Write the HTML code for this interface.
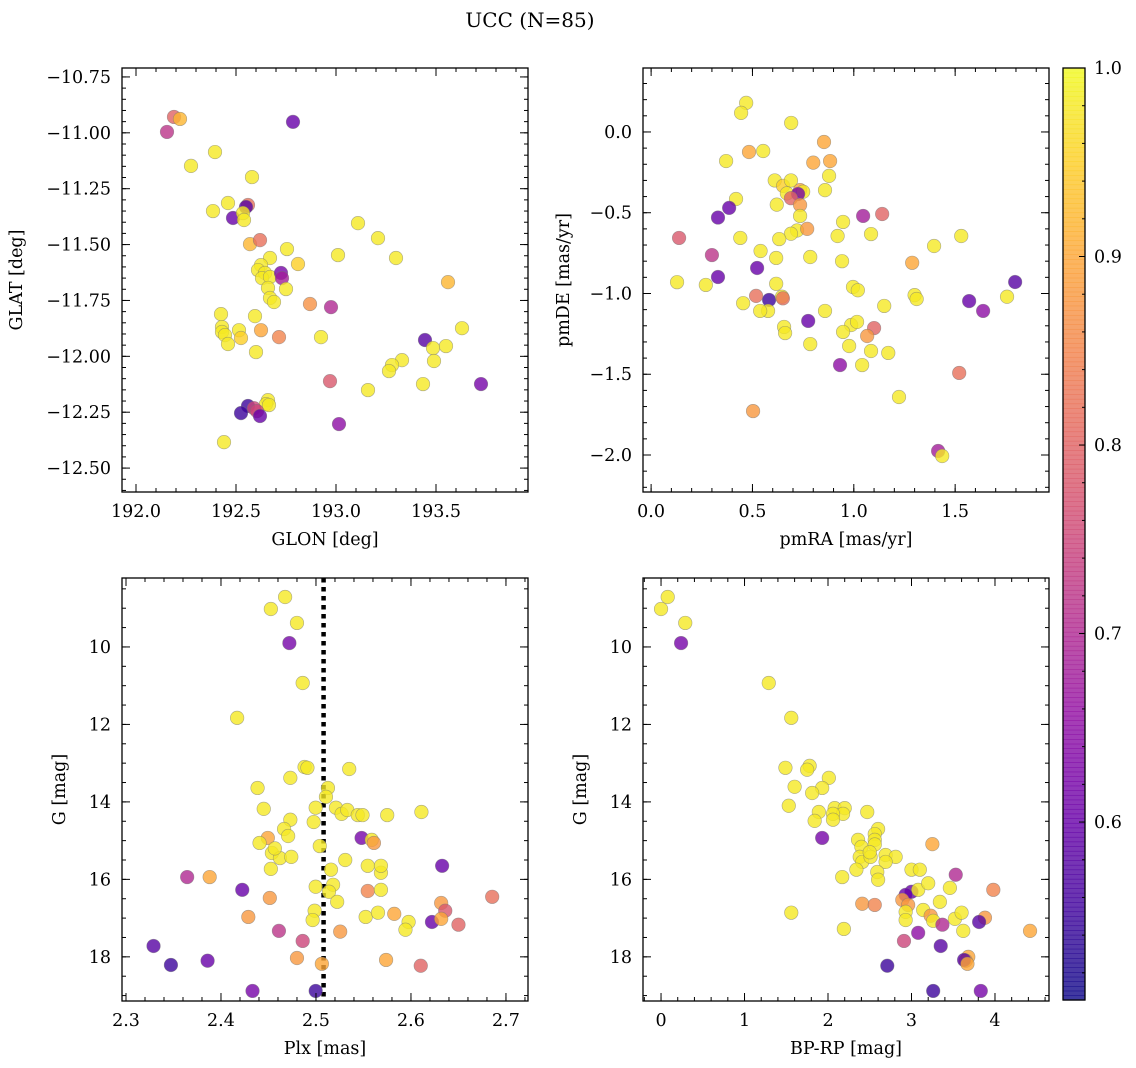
<!DOCTYPE html>
<html><head><meta charset="utf-8"><style>
body{margin:0;background:#fff;}
svg{display:block;font-family:"DejaVu Serif","Liberation Serif",serif;}
</style></head><body>
<svg id="fig" width="1136" height="1068" viewBox="0 0 1136 1068">
<text x="530" y="27" font-size="20" text-anchor="middle">UCC (N=85)</text>
</svg>
<script>
// ---- Panel 1: GLON / GLAT
const glon=[192.155,192.19,192.22,192.785,192.395,192.275,192.58,192.385,192.46,192.485,192.56,192.55,192.535,192.54,192.57,192.62,192.755,193.11,193.21,193.30,193.01,192.81,192.67,192.625,192.61,192.645,192.63,192.67,192.66,192.725,192.73,192.75,192.67,192.69,192.87,192.975,193.56,192.425,192.595,192.43,192.43,192.445,192.515,192.525,192.625,192.46,192.6,192.715,192.925,193.63,193.445,193.485,193.55,193.49,193.33,193.28,193.265,192.97,193.16,193.435,193.725,192.66,192.65,192.665,192.56,192.525,192.59,192.605,192.62,193.015,192.44];
const glat=[-10.996,-10.929,-10.938,-10.951,-11.086,-11.148,-11.198,-11.350,-11.314,-11.381,-11.323,-11.332,-11.359,-11.390,-11.498,-11.480,-11.520,-11.404,-11.471,-11.560,-11.547,-11.587,-11.560,-11.592,-11.614,-11.627,-11.650,-11.645,-11.694,-11.627,-11.650,-11.699,-11.739,-11.757,-11.766,-11.780,-11.668,-11.811,-11.820,-11.869,-11.891,-11.905,-11.883,-11.918,-11.883,-11.945,-11.981,-11.914,-11.914,-11.874,-11.927,-11.963,-11.954,-12.021,-12.017,-12.039,-12.066,-12.111,-12.151,-12.124,-12.124,-12.196,-12.214,-12.218,-12.222,-12.254,-12.232,-12.245,-12.267,-12.303,-12.384];
const prob1=[0.72,0.8,0.92,0.6,0.98,0.98,0.98,0.98,0.98,0.6,0.82,0.58,0.98,0.98,0.92,0.82,0.98,0.98,0.98,0.98,0.98,0.95,0.98,0.98,0.98,0.98,0.98,0.98,0.98,0.62,0.68,0.98,0.98,0.98,0.87,0.7,0.92,0.98,0.98,0.98,0.98,0.98,0.98,0.95,0.9,0.98,0.98,0.85,0.98,0.98,0.58,0.98,0.98,0.98,0.98,0.98,0.98,0.78,0.98,0.98,0.62,0.98,0.98,0.98,0.55,0.55,0.75,0.75,0.6,0.65,0.98];
// ---- Panel 2: pmRA / pmDE
const pmra=[0.469,0.444,0.483,0.553,0.691,0.853,0.883,0.80,0.37,0.61,0.651,0.69,0.735,0.75,0.67,0.878,0.858,0.725,0.69,0.419,0.385,0.33,0.735,0.735,0.62,0.72,0.77,0.69,0.947,1.046,1.14,1.085,0.92,0.632,0.44,0.138,0.54,1.396,1.53,0.785,0.942,1.288,0.30,0.523,0.617,0.33,0.128,0.27,0.617,0.996,1.02,1.30,1.31,1.796,1.756,1.569,1.638,0.454,0.582,0.646,0.518,0.577,0.538,0.858,1.15,0.775,0.987,1.016,0.656,0.661,0.947,1.10,1.066,0.977,0.785,1.085,1.17,0.932,1.041,1.52,1.223,0.503,1.416,1.436,0.65];
const pmde=[0.180,0.118,-0.124,-0.118,0.056,-0.062,-0.18,-0.19,-0.18,-0.30,-0.334,-0.30,-0.36,-0.37,-0.38,-0.272,-0.36,-0.384,-0.41,-0.415,-0.47,-0.53,-0.452,-0.52,-0.45,-0.61,-0.60,-0.63,-0.557,-0.52,-0.508,-0.632,-0.644,-0.663,-0.656,-0.656,-0.737,-0.706,-0.644,-0.774,-0.80,-0.81,-0.762,-0.842,-0.78,-0.898,-0.93,-0.947,-0.94,-0.96,-0.98,-1.01,-1.034,-0.929,-1.02,-1.047,-1.108,-1.06,-1.04,-1.02,-1.015,-1.108,-1.108,-1.108,-1.077,-1.17,-1.195,-1.176,-1.207,-1.245,-1.238,-1.214,-1.263,-1.325,-1.313,-1.356,-1.368,-1.443,-1.443,-1.492,-1.641,-1.728,-1.975,-2.006,-1.03];
const prob2=[0.98,0.98,0.9,0.98,0.98,0.9,0.9,0.9,0.98,0.98,0.95,0.98,0.9,0.98,0.98,0.98,0.98,0.62,0.8,0.98,0.6,0.6,0.88,0.98,0.98,0.98,0.88,0.98,0.98,0.68,0.8,0.98,0.98,0.98,0.98,0.78,0.98,0.98,0.98,0.98,0.98,0.9,0.72,0.6,0.98,0.6,0.98,0.98,0.98,0.98,0.98,0.98,0.98,0.58,0.98,0.6,0.65,0.98,0.55,0.98,0.82,0.98,0.98,0.98,0.98,0.6,0.98,0.98,0.98,0.98,0.98,0.8,0.88,0.98,0.98,0.98,0.98,0.65,0.98,0.82,0.98,0.88,0.68,0.98,0.82];
// ---- Panel 3: Plx / G
const plx=[2.4525,2.4675,2.480,2.472,2.486,2.417,2.488,2.491,2.535,2.4385,2.473,2.5126,2.5105,2.4997,2.445,2.521,2.527,2.533,2.544,2.549,2.575,2.611,2.473,2.4976,2.4664,2.4707,2.4493,2.548,2.5587,2.561,2.4406,2.4536,2.4621,2.474,2.504,2.5308,2.5545,2.5158,2.5684,2.4525,2.6328,2.518,2.4997,2.3881,2.3644,2.4224,2.5137,2.5545,2.5684,2.4514,2.5223,2.4986,2.6318,2.6361,2.6855,2.5523,2.5653,2.5824,2.4288,2.4965,2.5975,2.6221,2.5942,2.6318,2.65,2.461,2.5255,2.486,2.329,2.480,2.5738,2.3859,2.3473,2.5062,2.6103,2.4332,2.4997,2.4567,2.5684];
const gmag1=[9.02,8.71,9.38,9.90,10.93,11.83,13.10,13.12,13.15,13.64,13.38,13.64,13.87,14.15,14.18,14.15,14.31,14.21,14.34,14.34,14.34,14.26,14.46,14.52,14.70,14.88,14.93,14.93,14.98,15.06,15.06,15.32,15.45,15.42,15.14,15.50,15.65,15.75,15.83,15.73,15.65,16.14,16.19,15.94,15.94,16.27,16.32,16.30,16.27,16.48,16.58,16.81,16.61,16.81,16.45,16.97,16.86,16.89,16.97,17.05,17.10,17.10,17.30,17.02,17.17,17.33,17.35,17.59,17.72,18.03,18.08,18.10,18.21,18.18,18.23,18.88,18.88,15.20,15.65];
const prob3=[0.98,0.98,0.98,0.62,0.98,0.98,0.98,0.98,0.98,0.98,0.98,0.98,0.98,0.98,0.98,0.98,0.98,0.98,0.98,0.98,0.98,0.98,0.98,0.98,0.98,0.98,0.9,0.62,0.98,0.88,0.98,0.98,0.98,0.98,0.98,0.98,0.98,0.98,0.98,0.98,0.6,0.98,0.98,0.9,0.7,0.6,0.98,0.85,0.98,0.88,0.98,0.98,0.88,0.78,0.82,0.98,0.98,0.9,0.88,0.98,0.98,0.6,0.98,0.9,0.8,0.72,0.88,0.75,0.58,0.88,0.9,0.6,0.55,0.9,0.8,0.62,0.55,0.98,0.98];
// ---- Panel 4: BP-RP / G
const bprp=[0.0,0.08,0.29,0.24,1.29,1.56,1.49,1.78,1.75,1.60,2.01,1.93,1.81,1.53,1.89,2.08,2.20,2.18,2.47,2.06,2.06,1.84,2.60,2.56,1.93,2.36,2.56,2.40,3.25,2.56,2.38,2.41,2.51,2.69,2.81,2.69,2.17,2.34,2.59,2.60,3.0,3.10,3.53,3.0,3.08,2.93,3.46,3.98,2.41,2.56,2.89,2.96,2.93,3.34,3.14,3.23,3.52,3.60,3.88,2.93,3.26,3.37,3.81,3.08,2.91,2.19,3.62,4.42,3.35,3.68,3.65,3.63,3.67,2.71,3.26,3.83,1.56,2.5,3.2];
const gmag2=[9.02,8.71,9.38,9.90,10.93,11.83,13.12,13.07,13.17,13.61,13.38,13.64,13.77,14.10,14.26,14.16,14.16,14.31,14.26,14.31,14.46,14.49,14.70,14.83,14.93,14.98,14.98,15.16,15.09,15.10,15.42,15.55,15.42,15.37,15.42,15.55,15.94,15.75,15.81,16.01,15.75,15.75,15.88,16.32,16.27,16.40,16.22,16.27,16.63,16.66,16.53,16.66,16.84,16.58,16.79,16.94,17.02,16.86,16.99,17.05,17.07,17.17,17.10,17.38,17.59,17.28,17.33,17.33,17.72,18.00,18.10,18.08,18.18,18.23,18.88,18.88,16.86,15.3,16.1];
const prob4=[0.98,0.98,0.98,0.62,0.98,0.98,0.98,0.98,0.98,0.98,0.98,0.98,0.98,0.98,0.98,0.98,0.98,0.98,0.98,0.98,0.98,0.98,0.98,0.98,0.62,0.98,0.98,0.98,0.9,0.98,0.98,0.98,0.98,0.98,0.98,0.98,0.98,0.98,0.98,0.98,0.98,0.98,0.7,0.6,0.98,0.6,0.98,0.85,0.88,0.85,0.88,0.88,0.98,0.98,0.98,0.88,0.98,0.98,0.88,0.98,0.98,0.7,0.58,0.65,0.75,0.98,0.98,0.9,0.58,0.9,0.88,0.58,0.9,0.55,0.55,0.62,0.98,0.98,0.98];
const plxLine=2.508;
const cbTicks=[0.6,0.7,0.8,0.9,1.0];

const NS="http://www.w3.org/2000/svg";
const svg=document.getElementById('fig');
const PMIN=0.5056,PMAX=1.0;
const FS=17.5;
const stops=["#0d0887","#41049d","#6a00a8","#8f0da4","#b12a90","#cc4778","#e16462","#f2844b","#fca636","#fcce25","#f0f921"];
function hx(h){return [1,3,5].map(i=>parseInt(h.substr(i,2),16));}
function plasma(t){t=Math.max(0,Math.min(1,t));const f=t*10,i=Math.min(9,Math.floor(f)),u=f-i;const a=hx(stops[i]),b=hx(stops[i+1]);return 'rgb('+a.map((v,k)=>Math.round(v+(b[k]-v)*u)).join(',')+')';}
function pc(p){return plasma((p-PMIN)/(PMAX-PMIN));}
function mk(tag,attrs,parent){const e=document.createElementNS(NS,tag);for(const k in attrs)e.setAttribute(k,attrs[k]);(parent||svg).appendChild(e);return e;}
function fmt(v,d,neg){return ((v<0&&!neg)?'\u2212':'')+Math.abs(v).toFixed(d);}
function range(a,b,s){const r=[];for(let v=a;v<=b+1e-9;v+=s)r.push(+v.toFixed(6));return r;}

function panel(c){
  const g=mk('g',{});
  
  
  const sx=v=>c.x0+(v-c.xd[0])/(c.xd[1]-c.xd[0])*(c.x1-c.x0);
  const sy=v=>c.y1-(v-c.yd[0])/(c.yd[1]-c.yd[0])*(c.y1-c.y0);
  const inX=v=>v>=Math.min(...c.xd)-1e-9&&v<=Math.max(...c.xd)+1e-9;
  const inY=v=>v>=Math.min(...c.yd)-1e-9&&v<=Math.max(...c.yd)+1e-9;
  if(c.vline!==undefined){const l=mk('line',{x1:sx(c.vline),x2:sx(c.vline),y1:c.y0,y2:c.y1,stroke:'#000','stroke-width':4.5,'stroke-dasharray':'4.5,4.5'},g);
    
    }
  for(let i=0;i<c.xs.length;i++){
    const px=sx(c.xs[i]),py=sy(c.ys[i]);
    if(px<c.x0||px>c.x1||py<c.y0||py>c.y1)continue;
    const e=mk('circle',{cx:px,cy:py,r:6.8,fill:pc(c.ps[i]),'fill-opacity':0.8,stroke:'#777','stroke-opacity':0.6,'stroke-width':0.6},g);
    
    
  }
  const fr=mk('rect',{x:c.x0,y:c.y0,width:c.x1-c.x0,height:c.y1-c.y0,fill:'none',stroke:'#000','stroke-width':1.3},g);
  
  
  c.xmin.filter(inX).forEach(v=>{const x=sx(v);mk('line',{x1:x,x2:x,y1:c.y1,y2:c.y1-4,stroke:'#000'},g);mk('line',{x1:x,x2:x,y1:c.y0,y2:c.y0+4,stroke:'#000'},g);});
  c.xmaj.filter(inX).forEach(v=>{const x=sx(v);mk('line',{x1:x,x2:x,y1:c.y1,y2:c.y1-8,stroke:'#000'},g);mk('line',{x1:x,x2:x,y1:c.y0,y2:c.y0+8,stroke:'#000'},g);
    const t=mk('text',{x:x,y:c.y1+25,'font-size':FS,'text-anchor':'middle'},g);t.textContent=fmt(v,c.xdp,false);
    
    });
  c.ymin.filter(inY).forEach(v=>{const y=sy(v);mk('line',{x1:c.x0,x2:c.x0+4,y1:y,y2:y,stroke:'#000'},g);mk('line',{x1:c.x1,x2:c.x1-4,y1:y,y2:y,stroke:'#000'},g);});
  c.ymaj.filter(inY).forEach(v=>{const y=sy(v);mk('line',{x1:c.x0,x2:c.x0+8,y1:y,y2:y,stroke:'#000'},g);mk('line',{x1:c.x1,x2:c.x1-8,y1:y,y2:y,stroke:'#000'},g);
    const t=mk('text',{x:c.x0-11,y:y+6,'font-size':FS,'text-anchor':'end'},g);t.textContent=fmt(v,c.ydp,c.absY);
    
    });
  const xl=mk('text',{x:(c.x0+c.x1)/2,y:c.y1+53,'font-size':FS,'text-anchor':'middle'},g);xl.textContent=c.xlab;
  
  
  const yx=c.x0-c.yoff;
  const yl=mk('text',{x:yx,y:(c.y0+c.y1)/2,'font-size':FS,'text-anchor':'middle',transform:`rotate(-90 ${yx} ${(c.y0+c.y1)/2})`},g);yl.textContent=c.ylab;
  
  
}
panel({name:'glon-glat-panel',x0:122,x1:528,y0:68,y1:492,xd:[191.93,193.96],yd:[-12.607,-10.710],xs:glon,ys:glat,ps:prob1,
 xmaj:range(192,193.5,0.5),xmin:range(191.9,194,0.1),ymaj:range(-12.5,-10.75,0.25),ymin:range(-12.6,-10.7,0.05),xdp:1,ydp:2,xlab:'GLON [deg]',ylab:'GLAT [deg]',yoff:100});
panel({name:'pm-panel',x0:643,x1:1049,y0:68,y1:492,xd:[-0.04,1.963],yd:[-2.229,0.396],xs:pmra,ys:pmde,ps:prob2,
 xmaj:range(0,1.5,0.5),xmin:range(0,1.9,0.1),ymaj:range(-2,0,0.5),ymin:range(-2.2,0.3,0.1),xdp:1,ydp:1,xlab:'pmRA [mas/yr]',ylab:'pmDE [mas/yr]',yoff:74});
panel({name:'plx-g-panel',x0:122,x1:528,y0:578,y1:1001,xd:[2.2958,2.7232],yd:[-19.14,-8.22],xs:plx,ys:gmag1.map(v=>-v),ps:prob3,vline:plxLine,absY:true,
 xmaj:range(2.3,2.7,0.1),xmin:range(2.3,2.72,0.02),ymaj:range(-18,-10,2),ymin:range(-19,-8.5,0.5),xdp:1,ydp:0,xlab:'Plx [mas]',ylab:'G [mag]',yoff:57});
panel({name:'color-g-panel',x0:643,x1:1049,y0:578,y1:1001,xd:[-0.216,4.647],yd:[-19.14,-8.22],xs:bprp,ys:gmag2.map(v=>-v),ps:prob4,absY:true,
 xmaj:range(0,4,1),xmin:range(-0.2,4.6,0.2),ymaj:range(-18,-10,2),ymin:range(-19,-8.5,0.5),xdp:0,ydp:0,xlab:'BP-RP [mag]',ylab:'G [mag]',yoff:57});

const cb=mk('g',{});


const cx0=1063,cx1=1085,cy0=68,cy1=1000;
const cby=p=>cy1-(p-PMIN)/(PMAX-PMIN)*(cy1-cy0);
for(let i=0;i<200;i++){const p0=PMIN+(PMAX-PMIN)*i/200,p1=PMIN+(PMAX-PMIN)*(i+1)/200;
  mk('rect',{x:cx0,y:cby(p1),width:cx1-cx0,height:cby(p0)-cby(p1)+0.6,fill:pc((p0+p1)/2),'fill-opacity':0.8},cb);}
mk('rect',{x:cx0,y:cy0,width:cx1-cx0,height:cy1-cy0,fill:'none',stroke:'#000','stroke-width':1.3},cb);
range(0.52,1.0,0.02).forEach(v=>{const y=cby(v);mk('line',{x1:cx1,x2:cx1-3,y1:y,y2:y,stroke:'#000'},cb);});
cbTicks.forEach(v=>{const y=cby(v);mk('line',{x1:cx1,x2:cx1-6,y1:y,y2:y,stroke:'#000'},cb);
  const t=mk('text',{x:cx1+9,y:y+6,'font-size':FS},cb);t.textContent=v.toFixed(1);
  
  });
</script>
</body></html>
